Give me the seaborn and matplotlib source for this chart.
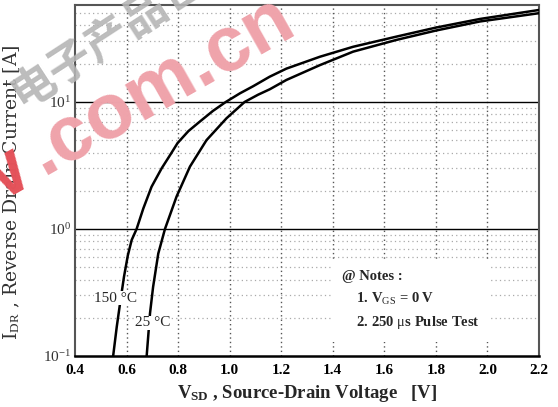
import numpy as np
import pandas as pd
import matplotlib
matplotlib.use("Agg")
import matplotlib.pyplot as plt
import matplotlib.ticker as mticker
import seaborn as sns

# ---- data ----
v_150 = [0.548, 0.562, 0.576, 0.590, 0.605, 0.620, 0.639, 0.665, 0.697, 0.736, 0.770,
         0.798, 0.840, 0.884, 0.935, 0.985, 1.040, 1.091, 1.155, 1.220, 1.350, 1.479,
         1.647, 1.800, 1.970, 2.200]
i_150 = [0.10, 0.17, 0.27, 0.42, 0.62, 0.82, 1.00, 1.45, 2.15, 3.00, 3.85,
         4.75, 5.90, 7.00, 8.50, 10.0, 11.7, 13.3, 15.8, 18.3, 22.7, 27.2,
         32.7, 38.5, 45.0, 53.0]
v_25 = [0.678, 0.691, 0.703, 0.723, 0.749, 0.794, 0.846, 0.910, 0.988, 1.058, 1.110,
        1.156, 1.220, 1.350, 1.479, 1.647, 1.800, 1.970, 2.200]
i_25 = [0.10, 0.217, 0.35, 0.64, 1.00, 1.80, 3.10, 5.00, 7.45, 10.0, 11.4,
        12.6, 14.9, 19.5, 24.9, 30.8, 36.5, 43.0, 50.0]
x_ticks = [0.4, 0.6, 0.8, 1.0, 1.2, 1.4, 1.6, 1.8, 2.0, 2.2]
labels = ["150 °C", "25 °C"]

df = pd.concat([
    pd.DataFrame({"V": v_150, "I": i_150, "T": labels[0]}),
    pd.DataFrame({"V": v_25, "I": i_25, "T": labels[1]}),
])

sns.set_theme(style="white")
plt.rcParams["font.family"] = ["Liberation Serif", "DejaVu Serif"]
plt.rcParams["mathtext.fontset"] = "custom"
plt.rcParams["mathtext.rm"] = "Liberation Serif"
plt.rcParams["mathtext.it"] = "Liberation Serif"
plt.rcParams["mathtext.bf"] = "Liberation Serif:bold"

fig = plt.figure(figsize=(5.58, 4.07), dpi=100)
ax = fig.add_axes([75 / 558, 1 - 356 / 407, (539 - 75) / 558, (356 - 5) / 407])

sns.lineplot(data=df, x="V", y="I", hue="T", units="T", estimator=None, sort=False,
             palette=["black", "black"], legend=False, linewidth=1.8, ax=ax, zorder=5)

ax.set_yscale("log")
ax.set_xlim(0.4, 2.2)
ax.set_ylim(0.1, 58)

ax.set_xticks(x_ticks)
ax.xaxis.set_major_formatter(mticker.FormatStrFormatter("%.1f"))
ax.xaxis.set_minor_locator(mticker.MultipleLocator(0.1))
ax.yaxis.set_major_locator(mticker.LogLocator(base=10, numticks=10))
ax.yaxis.set_minor_locator(mticker.LogLocator(base=10, subs=np.arange(2, 10), numticks=20))
ax.yaxis.set_minor_formatter(mticker.NullFormatter())

ax.tick_params(axis="x", which="both", direction="in", length=4, width=1.2,
               colors="black", labelsize=11, pad=6)
ax.tick_params(axis="y", which="both", direction="in", length=4, width=1.0,
               colors="#222222", labelsize=11, pad=3)
for lab in ax.get_xticklabels():
    lab.set_fontweight("bold")
for lab in ax.get_yticklabels():
    lab.set_color("#333333")

# grids
ax.grid(False)
for xv in x_ticks[1:-1]:
    ax.axvline(xv, color="#555555", linestyle=(0, (1, 2.2)), linewidth=1.0, zorder=1)
ax.grid(True, which="minor", axis="y", color="#aaaaaa", linestyle=(0, (1, 2.5)), linewidth=0.9)
for yv in [1, 10]:
    ax.axhline(yv, color="black", linewidth=1.0, zorder=2)

for side in ["left", "right", "top"]:
    ax.spines[side].set_color("#555555")
    ax.spines[side].set_linewidth(1.5)
ax.spines["bottom"].set_color("black")
ax.spines["bottom"].set_linewidth(1.8)

ax.set_xlabel(r"V$_{\mathbf{SD}}$ , Source-Drain Voltage   [V]", fontsize=13.5,
              fontweight="bold", labelpad=4)
ax.set_ylabel(r"I$_{\mathrm{DR}}$ , Reverse Drain Current [A]", fontsize=13.5,
              family="DejaVu Serif", color="#333333")
ax.yaxis.set_label_coords((22 - 75) / 464, (356 - 192) / 351)

# curve labels
ax.text(0.559, 0.286, "150 °C", fontsize=11, ha="center", va="center", zorder=6,
        bbox=dict(facecolor="white", edgecolor="none", pad=0.3))
ax.text(0.70, 0.182, "25 °C", fontsize=11, ha="center", va="center", zorder=6,
        bbox=dict(facecolor="white", edgecolor="none", pad=0.3))

# notes box
ax.text(0.575, 0.072, "@ Notes :\n    1. V$_{\\mathrm{GS}}$ = 0 V\n    2. 250 $\\mu$s Pulse Test",
        transform=ax.transAxes, fontsize=10.5, fontweight="bold", ha="left", va="bottom",
        linespacing=1.6, zorder=6,
        bbox=dict(facecolor="white", edgecolor="none", pad=8))

# watermark
fig.text(299 / 558, 1 - 31 / 407, ".com.cn", fontsize=56, fontweight="bold",
         family="Liberation Sans", color="#efa3ab", rotation=29.5, rotation_mode="anchor",
         ha="right", va="baseline", zorder=20)
fig.text(33 / 558, 1 - 182 / 407, "eepw", fontsize=56, fontweight="bold",
         family="Liberation Sans", color="#e4525a", rotation=29.5, rotation_mode="anchor",
         ha="right", va="baseline", zorder=20)
fig.text(14 / 558, 1 - 98 / 407, "电子产品世界", fontsize=32, fontweight="bold",
         family=["Noto Sans CJK SC", "DejaVu Sans"], color="#b5b5b5", rotation=33,
         rotation_mode="anchor", ha="left", va="center", zorder=20, alpha=0.9)

fig.savefig("out.png", dpi=100)
